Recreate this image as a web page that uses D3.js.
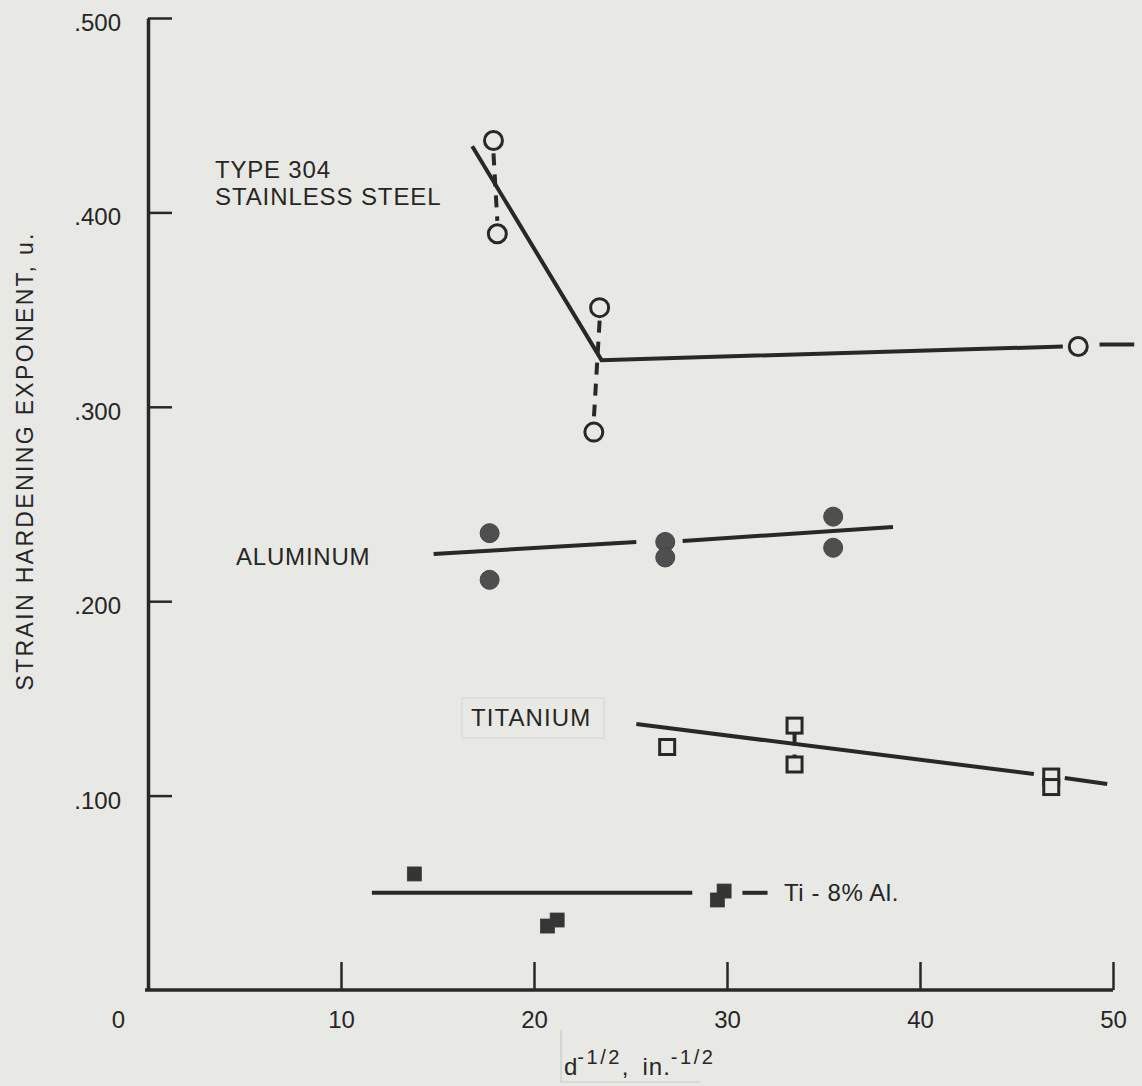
<!DOCTYPE html>
<html>
<head>
<meta charset="utf-8">
<script src="https://cdn.jsdelivr.net/npm/d3@7"></script>
<style>
  html, body { margin: 0; padding: 0; background: #e8e8e5; }
  svg { display: block; }
  text { font-family: "Liberation Sans", Arial, Helvetica, sans-serif; fill: #262626; }
</style>
</head>
<body>
<svg id="chart" width="1142" height="1086"></svg>
<script>
// ---------- data ----------
const xTickValues = [0, 10, 20, 30, 40, 50];
const xTickLabels = ["0", "10", "20", "30", "40", "50"];
const yTickValues = [0.1, 0.2, 0.3, 0.4, 0.5];
const yTickLabels = [".100", ".200", ".300", ".400", ".500"];

// Type 304 stainless steel (open circles)
const steelX = [17.9, 18.1, 23.4, 23.1, 48.2];
const steelY = [0.437, 0.389, 0.351, 0.287, 0.331];
const steelPairs = [[0, 1], [2, 3]];
const steelLines = [
  [[16.8, 0.434], [23.5, 0.324], [47.4, 0.331]],
  [[49.3, 0.332], [51.1, 0.332]]
];

// Aluminum (filled circles)
const aluX = [17.7, 17.7, 26.8, 26.8, 35.5, 35.5];
const aluY = [0.235, 0.211, 0.2305, 0.2225, 0.2435, 0.2275];
const aluLines = [
  [[14.8, 0.2243], [25.3, 0.2305]],
  [[27.7, 0.2310], [38.6, 0.2382]]
];

// Titanium (open squares)
const tiX = [26.9, 33.5, 33.5, 46.8, 46.8];
const tiY = [0.125, 0.136, 0.116, 0.1098, 0.1044];
const tiPairs = [[1, 2]];
const tiLines = [
  [[25.3, 0.1368], [45.9, 0.1111]],
  [[47.5, 0.1091], [49.7, 0.1060]]
];

// Ti-8% Al (filled squares)
const tialX = [13.8, 20.7, 21.2, 29.5, 29.85];
const tialY = [0.0597, 0.0329, 0.0360, 0.0463, 0.0509];
const tialLines = [
  [[11.6, 0.050], [28.2, 0.050]],
  [[30.8, 0.050], [32.1, 0.050]]
];

// ---------- drawing ----------
const ink = "#282828";
const paper = "#e8e8e5";
const svg = d3.select("#chart");
const x = d3.scaleLinear().domain([0, 50]).range([148, 1113]);
const y = d3.scaleLinear().domain([0, 0.5]).range([990, 18]);

svg.append("rect").attr("width", 1142).attr("height", 1086).attr("fill", paper);

// Y axis
const yAxis = d3.axisLeft(y)
  .tickValues(yTickValues)
  .tickFormat((d, i) => yTickLabels[i])
  .tickSizeInner(-24).tickSizeOuter(0).tickPadding(27);
const gy = svg.append("g").attr("transform", `translate(${x(0)},0)`).call(yAxis);
gy.select(".domain").attr("stroke", ink).attr("stroke-width", 3.5);
gy.selectAll(".tick line").attr("stroke", ink).attr("stroke-width", 2.5);
gy.selectAll(".tick text").attr("font-size", 24).attr("dy", "0.52em").attr("fill", "#262626")
  .style("font-family", '"Liberation Sans", Arial, sans-serif');

// X axis
const xAxis = d3.axisBottom(x)
  .tickValues(xTickValues)
  .tickFormat((d, i) => xTickLabels[i])
  .tickSizeInner(-28).tickSizeOuter(0).tickPadding(21);
const gx = svg.append("g").attr("transform", `translate(0,${y(0)})`).call(xAxis);
gx.select(".domain").attr("stroke", ink).attr("stroke-width", 3.5)
  .attr("d", `M${x(0) - 3},0H${x(50)}`);
gx.selectAll(".tick line").attr("stroke", ink).attr("stroke-width", 2.5)
  .attr("display", d => d === 0 ? "none" : null);
gx.selectAll(".tick text").attr("font-size", 24).attr("fill", "#262626")
  .style("font-family", '"Liberation Sans", Arial, sans-serif')
  .attr("dx", d => d === 0 ? -30 : 0);

// Axis titles
svg.append("text")
  .attr("transform", `translate(33,462) rotate(-90)`)
  .attr("text-anchor", "middle")
  .attr("font-size", 23)
  .attr("textLength", 457).attr("lengthAdjust", "spacing")
  .text("STRAIN HARDENING EXPONENT, u.");

// faint bracket near x title (scan artefact)
svg.append("path").attr("d", "M561,1030V1082H700").attr("fill", "none")
  .attr("stroke", "#cacac6").attr("stroke-width", 1.2);

const xt = svg.append("text").attr("x", 564).attr("y", 1075).attr("font-size", 24);
xt.append("tspan").text("d");
xt.append("tspan").attr("font-size", 20).attr("dy", -11).attr("letter-spacing", 2.5).text("-1/2");
xt.append("tspan").attr("dy", 11).text(",");
xt.append("tspan").attr("dx", 14).attr("letter-spacing", 1).text("in.");
xt.append("tspan").attr("font-size", 20).attr("dy", -11).attr("letter-spacing", 2.5).text("-1/2");

// Line helper
const line = d3.line().x(d => x(d[0])).y(d => y(d[1]));
function drawLines(segs) {
  svg.append("g").selectAll("path").data(segs).join("path")
    .attr("d", line).attr("fill", "none").attr("stroke", ink)
    .attr("stroke-width", 4).attr("stroke-linejoin", "miter");
}
function drawPairs(xs, ys, pairs, gap) {
  svg.append("g").selectAll("line").data(pairs).join("line")
    .attr("x1", p => x(xs[p[0]])).attr("x2", p => x(xs[p[1]]))
    .attr("y1", p => y(ys[p[0]]) + gap).attr("y2", p => y(ys[p[1]]) - gap)
    .attr("stroke", ink).attr("stroke-width", 4).attr("stroke-dasharray", "12,9");
}

// Stainless steel
drawLines(steelLines);
drawPairs(steelX, steelY, steelPairs, 13);
svg.append("g").selectAll("circle").data(steelX).join("circle")
  .attr("cx", d => x(d)).attr("cy", (d, i) => y(steelY[i])).attr("r", 9)
  .attr("fill", paper).attr("stroke", ink).attr("stroke-width", 3);

// Aluminum
drawLines(aluLines);
svg.append("g").selectAll("circle").data(aluX).join("circle")
  .attr("cx", d => x(d)).attr("cy", (d, i) => y(aluY[i])).attr("r", 9.5)
  .attr("fill", "#4f4f4f").attr("stroke", "#444").attr("stroke-width", 1);

// Titanium
drawLines(tiLines);
drawPairs(tiX, tiY, tiPairs, 8);
const sq = 15;
svg.append("g").selectAll("rect").data(tiX).join("rect")
  .attr("x", d => x(d) - sq / 2).attr("y", (d, i) => y(tiY[i]) - sq / 2)
  .attr("width", sq).attr("height", sq)
  .attr("fill", paper).attr("stroke", ink).attr("stroke-width", 3);

// Ti-8% Al
drawLines(tialLines);
const fs = 14;
svg.append("g").selectAll("rect").data(tialX).join("rect")
  .attr("x", d => x(d) - fs / 2).attr("y", (d, i) => y(tialY[i]) - fs / 2)
  .attr("width", fs).attr("height", fs)
  .attr("fill", "#353535").attr("stroke", "#3a3a3a").attr("stroke-width", 0.8);

// Labels
function label(txt, lx, ly, extra) {
  return svg.append("text").attr("x", lx).attr("y", ly).attr("font-size", 24)
    .attr("letter-spacing", extra || 0).text(txt);
}
label("TYPE 304", 215, 178, 0.8);
label("STAINLESS STEEL", 215, 205, 0.9);
label("ALUMINUM", 236, 565, 0.8);
svg.append("rect").attr("x", 462).attr("y", 698).attr("width", 142).attr("height", 40)
  .attr("fill", "none").attr("stroke", "#d8d8d4").attr("stroke-width", 1.2);
label("TITANIUM", 471, 726, 1.1);
label("Ti - 8% Al.", 784, 901, 0.6);
</script>
</body>
</html>
